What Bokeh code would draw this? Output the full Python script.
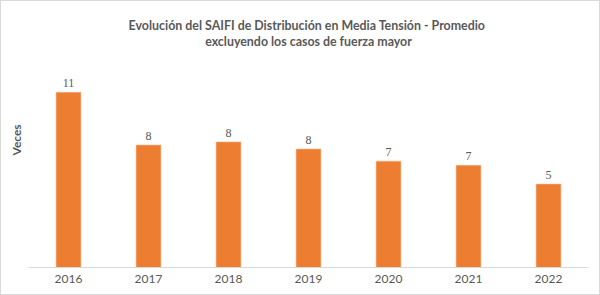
from bokeh.plotting import figure
from bokeh.layouts import column
from bokeh.models import ColumnDataSource, FactorRange, Range1d, LabelSet, Label, Title
from bokeh.embed import file_html
from bokeh.resources import INLINE

# SAIFI (times per year) of the medium-voltage distribution network
years = ["2016", "2017", "2018", "2019", "2020", "2021", "2022"]
saifi = [11.3, 7.9, 8.1, 7.64, 6.86, 6.59, 5.38]
title_lines = ["Evolución del SAIFI de Distribución  en Media Tensión - Promedio",
               "excluyendo los casos de fuerza mayor"]
y_title = "Veces"

ORANGE = "#ED7D31"
TEXT = "#595959"
GRID = "#D9D9D9"
FONT = "Lato"
HEAD_H = 60          # height of the title strip
FRAME_TOP = 68       # top of the bar area (leaves room for the value labels)
BASELINE = 267       # y pixel of the category axis
SCALE_TOP = 12.0     # value that sits at y pixel 81

src = ColumnDataSource(dict(
    year=years,
    value=saifi,
    label=[f"{v:.0f}" for v in saifi],
))

# ---- header strip holding the two-line title (pixel-like coordinates, y downward) ----
head = figure(width=600, height=HEAD_H, x_range=Range1d(0, 600), y_range=Range1d(HEAD_H, 0),
              x_axis_type=None, y_axis_type=None,
              output_backend="svg", toolbar_location=None,
              min_border=0, min_border_left=0, min_border_right=0,
              min_border_top=0, min_border_bottom=0)
head.grid.visible = False
head.outline_line_color = None
head.background_fill_color = None
head.border_fill_color = None
for i, line in enumerate(title_lines):
    head.add_layout(Label(x=300, y=24.5 + 16 * i,
                          text=line, text_align="center", text_baseline="alphabetic",
                          text_font=FONT, text_font_size="12.4px", text_font_style="bold",
                          text_color=TEXT))

# ---- bar chart ----
y_end = SCALE_TOP * (BASELINE - FRAME_TOP) / (BASELINE - 81)
p = figure(
    width=600, height=295 - HEAD_H,
    x_range=FactorRange(*years, range_padding=0.0),
    y_range=Range1d(0, y_end),
    output_backend="svg", toolbar_location=None,
    min_border_left=28, min_border_right=12,
    min_border_top=FRAME_TOP - HEAD_H, min_border_bottom=28,
)
p.background_fill_color = None
p.border_fill_color = None
p.outline_line_color = None
p.xgrid.visible = False
p.ygrid.visible = False
p.yaxis.visible = False

p.vbar(x="year", top="value", width=0.31, source=src,
       fill_color=ORANGE, line_color="#F4B183", line_width=0.6)

p.add_layout(LabelSet(x="year", y="value", text="label", source=src,
                      text_align="center", text_baseline="bottom", y_offset=5,
                      text_font=FONT, text_font_size="12px", text_color=TEXT))

ax = p.xaxis[0]
ax.axis_line_color = GRID
ax.axis_line_width = 1
ax.major_tick_line_color = None
ax.minor_tick_line_color = None
ax.major_label_standoff = 1
ax.major_label_text_font = FONT
ax.major_label_text_font_size = "12px"
ax.major_label_text_color = TEXT

p.add_layout(Title(text=y_title, align="left", offset=112, standoff=9,
                   text_font=FONT, text_font_size="12px", text_font_style="bold",
                   text_color=TEXT), "left")

page = column(head, p, spacing=0)
# white card with a thin light-grey frame
page.styles = {"background-color": "white", "box-shadow": "inset 0 0 0 1px #D9D9D9"}

open("out.html", "w").write(file_html(page, INLINE))
